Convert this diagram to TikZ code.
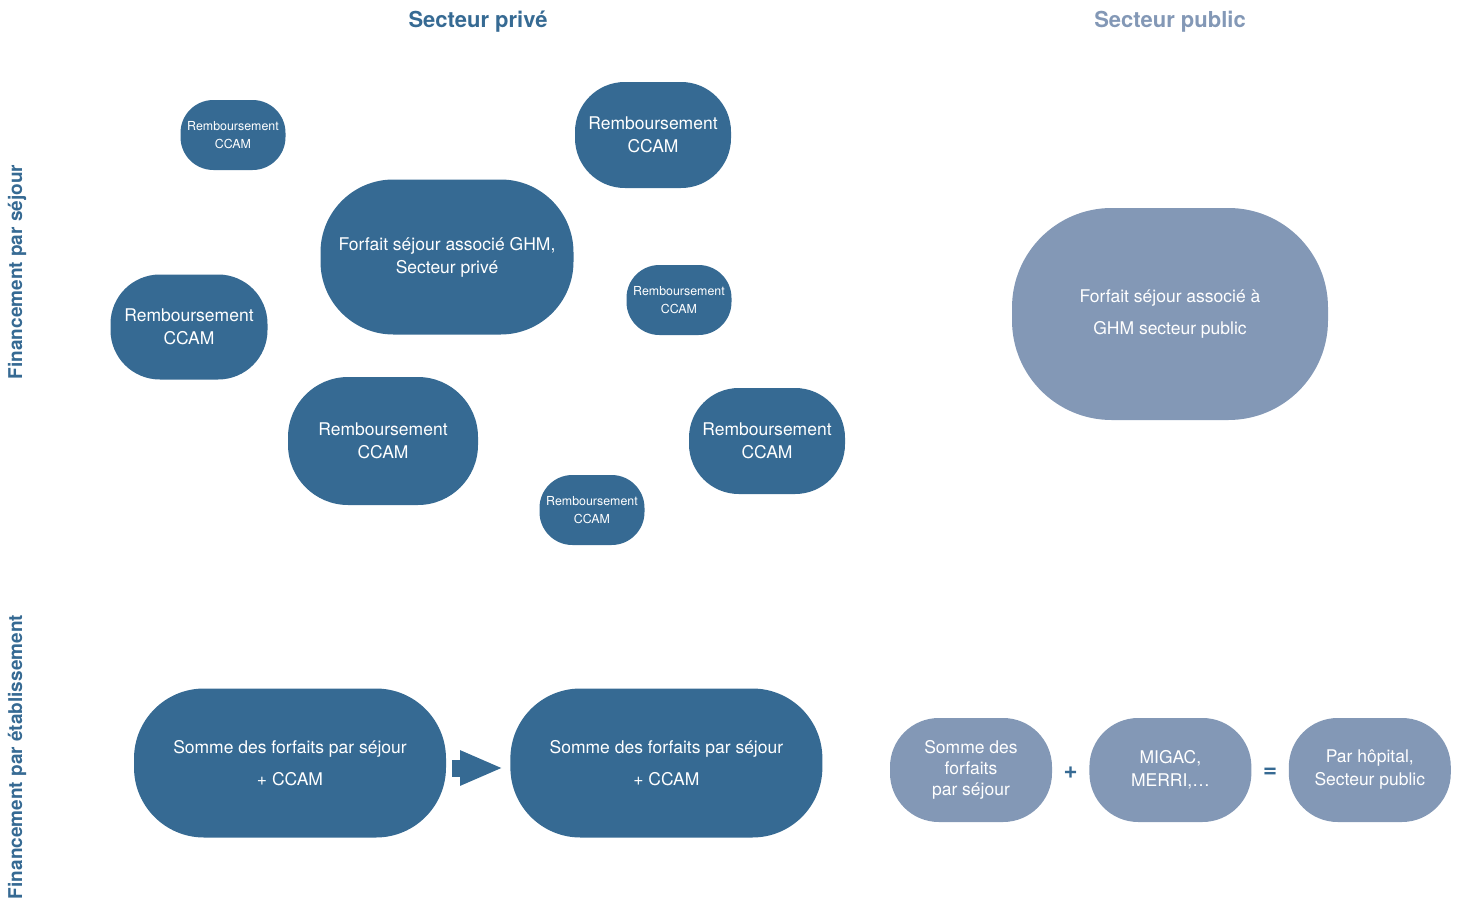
\documentclass[tikz,border=0pt]{standalone}
\usepackage{fontspec}
\setmainfont{TeX Gyre Heros}
\usepackage{tikz}
\usetikzlibrary{
        arrows.meta,
        calc,
        positioning,
        shapes
    }
\definecolor{privblue}{RGB}{54,106,147}
\definecolor{pubblue}{RGB}{131,152,182}
\tikzset{>={Triangle[length=43pt,width=32pt]},auto,node distance=2cm}
\tikzset{
        bubble/.style 2 args={rectangle,rounded corners=0.47*#2,minimum width=#1,minimum height=#2,
                inner sep=0pt,align=center,text=white,fill=privblue,font=\fontsize{17.5}{23}\selectfont},
        smallbubble/.style={bubble={105pt}{70pt},font=\fontsize{12.4}{18}\selectfont},
        pub/.style={fill=pubblue},
        head/.style={font=\fontsize{22}{26}\selectfont\bfseries},
        side/.style={rotate=90,text=privblue,font=\fontsize{19}{22}\selectfont\bfseries},
        sign/.style={text=privblue,font=\fontsize{24}{26}\selectfont\bfseries}
    }

\begin{document}
\begin{tikzpicture}[x=1pt,y=-1pt]
        \useasboundingbox (0,0) rectangle (1460,902);

        \node[head,text=privblue] (hpriv) at (478,22) {Secteur privé};
        \node[head,text=pubblue]  (hpub)  at (1170,22) {Secteur public};
        \node[side] (lsejour) at (17,272) {Financement par séjour};
        \node[side] (letab)   at (17,757) {Financement par établissement};

        \node[smallbubble]          (c1)      at (233,135) {Remboursement\\CCAM};
        \node[bubble={156pt}{106pt}] (c2)     at (653,135) {Remboursement\\CCAM};
        \node[bubble={253pt}{155pt}] (ghmpriv) at (447,257) {Forfait séjour associé GHM,\\Secteur privé};
        \node[bubble={157pt}{105pt}] (c3)     at (189,327) {Remboursement\\CCAM};
        \node[smallbubble]          (c4)      at (679,300) {Remboursement\\CCAM};
        \node[bubble={190pt}{128pt}] (c5)     at (383,441) {Remboursement\\CCAM};
        \node[bubble={156pt}{106pt}] (c6)     at (767,441) {Remboursement\\CCAM};
        \node[smallbubble]          (c7)      at (592,510) {Remboursement\\CCAM};

        \node[bubble={316pt}{212pt},pub,font=\fontsize{17.5}{32}\selectfont] (ghmpub) at (1170,314)
                {Forfait séjour associé à\\GHM secteur public};

        \node[bubble={312pt}{149pt},font=\fontsize{17.5}{32}\selectfont] (somme1) at (290,763)
                {Somme des forfaits par séjour\\+ CCAM};
        \node[bubble={312pt}{149pt},font=\fontsize{17.5}{32}\selectfont] (somme2) [right=64pt of somme1]
                {Somme des forfaits par séjour\\+ CCAM};
        \draw[->,line width=17pt,privblue] ([xshift=6pt,yshift=-5pt]somme1.east) -- ([xshift=-7pt,yshift=-5pt]somme2.west);

        \node[bubble={162pt}{104pt},pub,font=\fontsize{17.5}{21}\selectfont] (sommepub) at (971,770)
                {Somme des\\forfaits\\par séjour};
        \node[bubble={162pt}{104pt},pub] (migac)   [right=37pt of sommepub] {MIGAC,\\MERRI,\dots};
        \node[bubble={162pt}{104pt},pub] (hopital) [right=37pt of migac]    {Par hôpital,\\Secteur public};
        \node[sign] (plus) at ($(sommepub.east)!0.5!(migac.west)+(0,3)$) {+};
        \node[sign] (egal) at ($(migac.east)!0.5!(hopital.west)+(0,3)$) {=};
\end{tikzpicture}
\end{document}
